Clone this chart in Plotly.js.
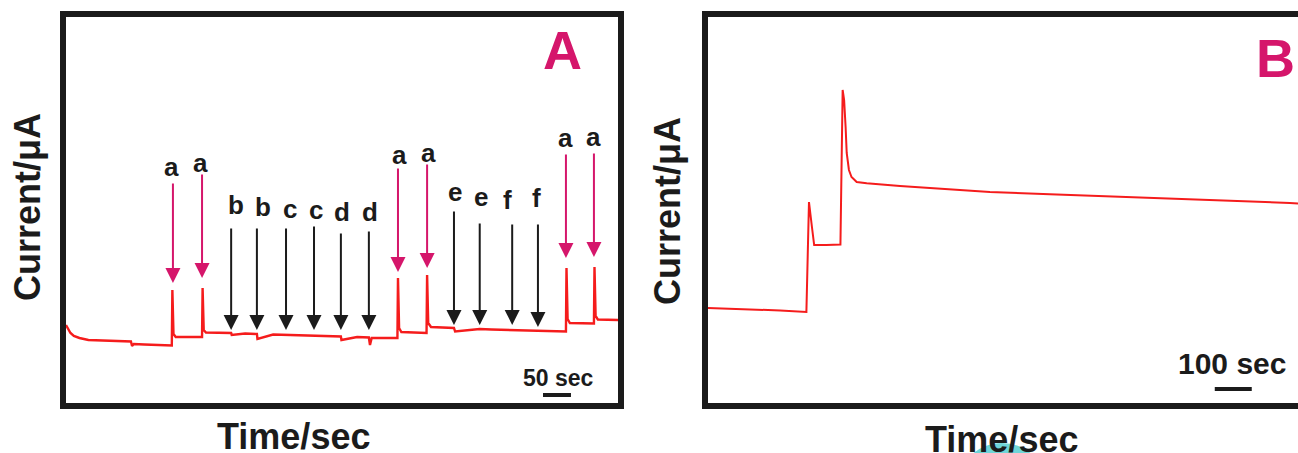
<!DOCTYPE html>
<html>
<head>
<meta charset="utf-8">
<script src="https://cdn.plot.ly/plotly-3.0.1.min.js"></script>
<style>html,body{margin:0;padding:0;background:#fff;}#chart{width:1298px;height:453px;}</style>
</head>
<body>
<div id="chart"></div>
<script>
// ---------- Panel A : amperometric trace ----------
const timeA = [0, 4, 8, 14, 24, 40, 60, 80, 100, 116, 118, 121, 140, 160, 180, 189, 190, 192, 196, 215, 235, 243, 244, 246, 250, 270, 295, 296, 320, 341, 342, 370, 393, 420, 443, 470, 491, 492, 520, 541, 543, 546, 570, 592, 593, 595, 599, 620, 644, 645, 647, 652, 693, 695, 739, 760, 797, 820, 843, 870, 893, 894, 896, 900, 920, 943, 944, 946, 950, 970, 986];
const currentA = [7.8, 7.4, 7.0, 6.7, 6.5, 6.3, 6.25, 6.2, 6.2, 6.15, 5.7, 5.9, 5.85, 5.8, 5.8, 5.75, 11.3, 6.9, 6.6, 6.6, 6.55, 6.6, 11.5, 7.3, 7.05, 7.0, 7.0, 6.8, 6.95, 6.9, 6.4, 6.85, 6.8, 6.75, 6.7, 6.7, 6.65, 6.3, 6.6, 6.55, 5.8, 6.5, 6.5, 6.5, 12.5, 7.5, 7.1, 7.05, 7.0, 12.8, 8.0, 7.6, 7.5, 7.15, 7.4, 7.35, 7.3, 7.25, 7.2, 7.15, 7.15, 13.5, 8.4, 8.0, 7.95, 7.95, 13.6, 8.7, 8.35, 8.3, 8.3];

// injection arrows (A)
const injTimes  = [191, 243, 295, 341, 393, 443, 491, 541, 593, 645, 693, 739, 797, 843, 893, 943];
const injLabels = ['a','a','b','b','c','c','d','d','a','a','e','e','f','f','a','a'];
const injTipY   = [12.0, 12.5, 7.3, 7.3, 7.3, 7.3, 7.3, 7.3, 13.1, 13.5, 7.8, 7.8, 7.8, 7.6, 14.5, 14.6];
const injTailY  = [22.1, 23.0, 17.6, 17.6, 17.6, 17.8, 17.1, 17.3, 23.6, 24.0, 19.3, 18.1, 18.0, 18.0, 25.0, 25.1];
const labelX    = [188, 241, 304, 352, 400, 447, 493, 543, 595, 647, 695, 741, 789, 841, 893, 943];
const labelY    = [23.6, 24.0, 19.8, 19.6, 19.4, 19.3, 19.1, 19.1, 24.8, 25.0, 21.1, 20.6, 20.3, 20.5, 26.5, 26.6];

// scale bar A (50 sec)
const scaleA = {start: 852, length: 50, y: 0.8, label: '50 sec', labelX: 880, labelY: 2.5};

// ---------- Panel B ----------
const timeB = [0, 86, 195, 266, 273, 281, 287, 320, 358, 364, 368, 372, 375, 381, 388, 402, 429, 519, 762, 924, 1141, 1357, 1573, 1595];
const currentB = [9.5, 9.4, 9.25, 9.1, 20.1, 17.6, 15.8, 15.8, 15.85, 31.3, 30.3, 27.6, 25.0, 23.3, 22.6, 22.1, 21.97, 21.7, 21.1, 20.87, 20.6, 20.3, 20.0, 19.95];
const scaleB = {start: 1370, length: 100, y: 1.4, label: '100 sec', labelX: 1416, labelY: 4.0};

const PINK = '#d5166b';
const RED = 'rgb(245,28,28)';
const DARK = '#1b1b1b';
const FONT = 'Liberation Sans, Arial, Helvetica, sans-serif';

const W = 1298, H = 453;
const px = v => v / W;
const py = v => 1 - v / H;

const traces = [
  {x: timeA, y: currentA, xaxis: 'x', yaxis: 'y', mode: 'lines', line: {color: RED, width: 2.4}, hoverinfo: 'skip'},
  {x: [scaleA.start, scaleA.start + scaleA.length], y: [scaleA.y, scaleA.y], xaxis: 'x', yaxis: 'y', mode: 'lines', line: {color: DARK, width: 4}, hoverinfo: 'skip'},
  {x: timeB, y: currentB, xaxis: 'x2', yaxis: 'y2', mode: 'lines', line: {color: RED, width: 2}, hoverinfo: 'skip'},
  {x: [scaleB.start, scaleB.start + scaleB.length], y: [scaleB.y, scaleB.y], xaxis: 'x2', yaxis: 'y2', mode: 'lines', line: {color: DARK, width: 4}, hoverinfo: 'skip'}
];

const annotations = [];
injTimes.forEach((t, i) => {
  const col = injLabels[i] === 'a' ? PINK : DARK;
  annotations.push({x: t, y: injTipY[i], ax: injTimes[i], ay: injTailY[i], xref: 'x', yref: 'y', axref: 'x', ayref: 'y',
    text: '', showarrow: true, arrowhead: 2, arrowsize: 1.5, arrowwidth: 2, arrowcolor: col, standoff: 0, startstandoff: 0});
  annotations.push({x: labelX[i], y: labelY[i], xref: 'x', yref: 'y', text: injLabels[i], showarrow: false,
    xanchor: 'center', yanchor: 'middle', font: {family: FONT, size: 26, color: DARK, weight: 'bold'}});
});
annotations.push({x: scaleA.labelX, y: scaleA.labelY, xref: 'x', yref: 'y', text: scaleA.label, showarrow: false,
  xanchor: 'center', yanchor: 'middle', font: {family: FONT, size: 23, color: DARK, weight: 'bold'}});
annotations.push({x: scaleB.labelX, y: scaleB.labelY, xref: 'x2', yref: 'y2', text: scaleB.label, showarrow: false,
  xanchor: 'center', yanchor: 'middle', font: {family: FONT, size: 30, color: DARK, weight: 'bold'}});

const paperText = (x, y, text, size, color, angle) => ({
  x: px(x), y: py(y), xref: 'paper', yref: 'paper', text: text, showarrow: false,
  xanchor: 'center', yanchor: 'middle', textangle: angle || 0,
  font: {family: FONT, size: size, color: color, weight: 'bold'}
});
// panel letters
annotations.push(paperText(562, 50, 'A', 54, PINK));
annotations.push(paperText(1275, 58, 'B', 54, PINK));
// axis titles
annotations.push(paperText(27, 207, 'Current/μA', 36, DARK, -90));
annotations.push(paperText(668, 211, 'Current/μA', 36, DARK, -90));
annotations.push(paperText(293, 436, 'Time/sec', 36, DARK));
annotations.push(paperText(1001, 439, 'Time/sec', 36, DARK));

const axisCommon = {showgrid: false, zeroline: false, showticklabels: false, ticks: '', fixedrange: true,
  showline: true, linecolor: DARK, linewidth: 6};

const layout = {
  width: W, height: H, autosize: false,
  margin: {l: 0, r: 0, t: 0, b: 0, pad: 0},
  paper_bgcolor: '#ffffff', plot_bgcolor: '#ffffff',
  showlegend: false,
  xaxis: Object.assign({}, axisCommon, {domain: [px(66), px(618)], range: [0, 986], mirror: true, anchor: 'y'}),
  yaxis: Object.assign({}, axisCommon, {domain: [py(403), py(17)], range: [0, 38.6], mirror: true, anchor: 'x'}),
  xaxis2: Object.assign({}, axisCommon, {domain: [px(708), 1], range: [0, 1595], mirror: true, anchor: 'y2'}),
  yaxis2: Object.assign({}, axisCommon, {domain: [py(403), py(17)], range: [0, 38.6], mirror: false, anchor: 'x2'}),
  annotations: annotations,
  shapes: [
    {type: 'circle', xref: 'paper', yref: 'paper', x0: px(956), x1: px(1048), y0: py(443), y1: py(535),
     fillcolor: 'rgba(95,208,212,0.9)', line: {width: 0}, layer: 'above'}
  ]
};

Plotly.newPlot('chart', traces, layout, {staticPlot: true, displayModeBar: false});
</script>
</body>
</html>
